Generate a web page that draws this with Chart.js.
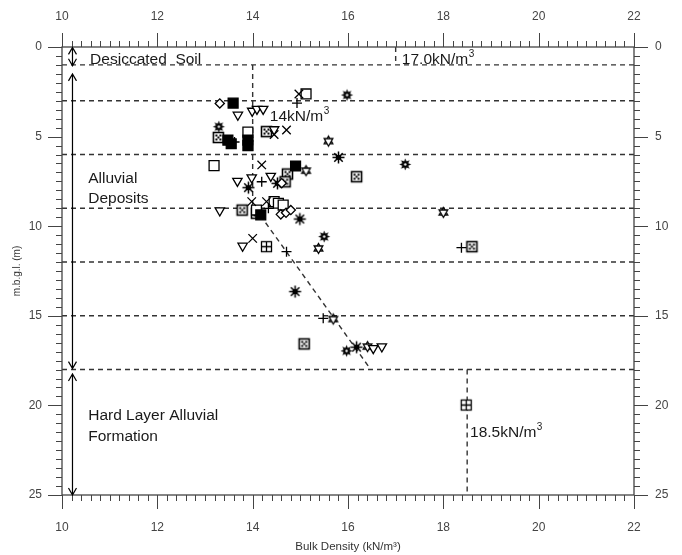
<!DOCTYPE html>
<html>
<head>
<meta charset="utf-8">
<script src="https://cdn.jsdelivr.net/npm/chart.js@4.4.1/dist/chart.umd.min.js"></script>
<style>
  html, body { margin: 0; padding: 0; background: #fff; }
</style>
</head>
<body>
<canvas id="densityChart" width="682" height="555"></canvas>
<script>
  // axis ticks
  const densityTicks = [10, 12, 14, 16, 18, 20, 22];
  const depthTicks = [0, 5, 10, 15, 20, 25];

  // boundaries between soil layers (m)
  const layerDepths = [1, 3, 6, 9, 12, 15, 18];

  // guide lines
  const trendX = [14, 14, 16.46];
  const trendY = [1, 8.8, 17.93];
  const topGuideX = [17, 17];
  const topGuideY = [0, 1];
  const bottomGuideX = [18.5, 18.5];
  const bottomGuideY = [18, 25];

  // readings, one pair of arrays per symbol
  const diamondX = [13.31, 14.59, 14.70, 14.80, 14.61];
  const diamondY = [3.15, 9.34, 9.25, 9.10, 7.60];
  const filledX = [13.59, 13.48, 13.55, 13.90, 13.90, 14.17, 14.90];
  const filledY = [3.13, 5.20, 5.40, 5.20, 5.50, 9.37, 6.64];
  const triangleX = [13.69, 13.99, 14.09, 14.22, 14.45, 13.68, 13.98, 14.38, 13.31, 13.79, 16.53, 16.71];
  const triangleY = [3.79, 3.57, 3.46, 3.46, 4.60, 7.48, 7.29, 7.20, 9.13, 11.10, 16.81, 16.72];
  const crossX = [14.97, 14.45, 14.71, 14.19, 13.98, 14.29, 14.00];
  const crossY = [2.62, 4.88, 4.63, 6.58, 8.63, 8.63, 10.68];
  const plusX = [14.93, 13.62, 14.19, 14.33, 14.71, 18.38, 15.48];
  const plusY = [3.13, 5.30, 7.52, 9.00, 11.42, 11.20, 15.14];
  const squareX = [15.12, 13.90, 13.19, 14.45, 14.54, 14.64, 14.08];
  const squareY = [2.62, 4.75, 6.62, 8.63, 8.72, 8.82, 9.10];
  const diceX = [13.28, 14.29, 14.73, 14.68, 16.18, 13.78, 14.08, 18.60, 15.08];
  const diceY = [5.05, 4.72, 7.09, 7.52, 7.24, 9.10, 9.28, 11.14, 16.57];
  const gridX = [14.29, 18.48];
  const gridY = [11.14, 19.98];
  const burstX = [15.98, 13.29, 17.20, 15.50, 15.97];
  const burstY = [2.68, 4.45, 6.55, 10.58, 16.96];
  const asteriskX = [15.80, 13.91, 14.52, 14.99, 14.89, 16.18];
  const asteriskY = [6.16, 7.85, 7.61, 9.60, 13.65, 16.75];
  const hexX = [15.59, 15.12, 18.00, 15.38, 15.69, 16.41];
  const hexY = [5.25, 6.90, 9.23, 11.24, 15.18, 16.72];

  Chart.defaults.font.family = 'Arial, "Liberation Sans", sans-serif';
  const noteFont = '15.5px Arial, "Liberation Sans", sans-serif';

  function makeMarker(draw) {
    const c = document.createElement('canvas');
    c.width = 15; c.height = 15;
    const g = c.getContext('2d');
    g.translate(7.5, 7.5);
    g.strokeStyle = '#000';
    g.fillStyle = '#000';
    g.lineWidth = 1.3;
    draw(g);
    return c;
  }

  const diceMarker = makeMarker(function(g) {
    g.fillStyle = '#fff';
    g.fillRect(-5, -5, 10, 10);
    g.lineWidth = 1.6;
    g.strokeRect(-5, -5, 10, 10);
    g.fillStyle = '#000';
    [[-2, -2], [2, -2], [0, 0], [-2, 2], [2, 2]].forEach(function(p) {
      g.fillRect(p[0] - 1, p[1] - 1, 2, 2);
    });
  });

  const gridMarker = makeMarker(function(g) {
    g.fillStyle = '#fff';
    g.fillRect(-5, -5, 10, 10);
    g.strokeRect(-5, -5, 10, 10);
    g.beginPath();
    g.moveTo(0, -5); g.lineTo(0, 5);
    g.moveTo(-5, 0); g.lineTo(5, 0);
    g.stroke();
  });

  const hexMarker = makeMarker(function(g) {
    g.lineWidth = 1.3;
    g.fillStyle = '#fff';
    for (let t = 0; t < 2; t++) {
      g.beginPath();
      for (let k = 0; k < 3; k++) {
        const a = -Math.PI / 2 + t * Math.PI + k * 2 * Math.PI / 3;
        const px = 5 * Math.cos(a), py = 5 * Math.sin(a);
        if (k === 0) g.moveTo(px, py); else g.lineTo(px, py);
      }
      g.closePath();
      g.fill();
      g.stroke();
    }
  });

  const burstMarker = makeMarker(function(g) {
    g.beginPath();
    for (let k = 0; k < 16; k++) {
      const a = k * Math.PI / 8;
      const r = k % 2 === 0 ? 6 : 3.2;
      if (k === 0) g.moveTo(r * Math.cos(a), r * Math.sin(a));
      else g.lineTo(r * Math.cos(a), r * Math.sin(a));
    }
    g.closePath();
    g.fill();
    g.fillStyle = '#fff';
    g.beginPath();
    g.arc(0, 0, 1.2, 0, Math.PI * 2);
    g.fill();
  });

  const asteriskMarker = makeMarker(function(g) {
    g.lineWidth = 1.5;
    g.beginPath();
    for (let k = 0; k < 4; k++) {
      const a = k * Math.PI / 4;
      g.moveTo(-6 * Math.cos(a), -6 * Math.sin(a));
      g.lineTo(6 * Math.cos(a), 6 * Math.sin(a));
    }
    g.stroke();
    g.beginPath();
    g.arc(0, 0, 2.8, 0, Math.PI * 2);
    g.fill();
  });

  function markerSet(xs, ys, style, extra) {
    return Object.assign({
      data: xs.map(function(v, i) { return { x: v, y: ys[i] }; }),
      pointStyle: style,
      pointRadius: 5,
      borderColor: '#000',
      backgroundColor: '#fff',
      borderWidth: 1.3,
      order: 1
    }, extra || {});
  }

  function guideLine(xs, ys) {
    return {
      data: xs.map(function(v, i) { return { x: v, y: ys[i] }; }),
      showLine: true,
      borderColor: '#333',
      borderWidth: 1.4,
      borderDash: [5, 4],
      pointRadius: 0,
      fill: false,
      order: 5
    };
  }

  const datasets = [
    markerSet(diamondX, diamondY, 'rectRot', { pointRadius: 4.6 }),
    markerSet(filledX, filledY, 'rect', { pointRadius: 7, backgroundColor: '#000' }),
    markerSet(triangleX, triangleY, 'triangle', { pointRadius: 5.4, rotation: 180 }),
    markerSet(crossX, crossY, 'crossRot', { pointRadius: 6 }),
    markerSet(plusX, plusY, 'cross', { pointRadius: 5 }),
    markerSet(squareX, squareY, 'rect', { pointRadius: 7 }),
    markerSet(diceX, diceY, diceMarker),
    markerSet(gridX, gridY, gridMarker),
    markerSet(burstX, burstY, burstMarker),
    markerSet(asteriskX, asteriskY, asteriskMarker),
    markerSet(hexX, hexY, hexMarker)
  ];
  layerDepths.forEach(function(d) { datasets.push(guideLine([10, 22], [d, d])); });
  datasets.push(guideLine(trendX, trendY));
  datasets.push(guideLine(topGuideX, topGuideY));
  datasets.push(guideLine(bottomGuideX, bottomGuideY));

  function supText(ctx, base, sup, px, py) {
    ctx.font = noteFont;
    ctx.fillText(base, px, py);
    const w = ctx.measureText(base).width;
    ctx.font = '10px Arial, "Liberation Sans", sans-serif';
    ctx.fillText(sup, px + w + 0.5, py - 7);
  }

  function arrow(ctx, px, ya, yb) {
    ctx.beginPath();
    ctx.moveTo(px, ya); ctx.lineTo(px, yb);
    ctx.moveTo(px - 4, ya + 7); ctx.lineTo(px, ya); ctx.lineTo(px + 4, ya + 7);
    ctx.moveTo(px - 4, yb - 7); ctx.lineTo(px, yb); ctx.lineTo(px + 4, yb - 7);
    ctx.stroke();
  }

  // frame, tick marks, arrows and notes
  const overlay = {
    id: 'overlay',
    afterDraw(chart) {
      const ctx = chart.ctx;
      const a = chart.chartArea;
      const x = chart.scales.x;
      const y = chart.scales.y;
      ctx.save();

      ctx.strokeStyle = '#444';
      ctx.lineWidth = 1.3;
      ctx.strokeRect(a.left, a.top, a.right - a.left, a.bottom - a.top);

      ctx.beginPath();
      for (let i = 0; i <= 60; i++) {
        const px = Math.round(x.getPixelForValue(10 + i * 0.2)) + 0.5;
        const len = i % 10 === 0 ? 14 : 6;
        ctx.moveTo(px, a.bottom); ctx.lineTo(px, a.bottom + len);
        ctx.moveTo(px, a.top); ctx.lineTo(px, a.top - len);
      }
      for (let i = 0; i <= 50; i++) {
        const py = Math.round(y.getPixelForValue(i * 0.5)) + 0.5;
        const len = i % 10 === 0 ? 14 : 6;
        ctx.moveTo(a.left, py); ctx.lineTo(a.left - len, py);
        ctx.moveTo(a.right, py); ctx.lineTo(a.right + len, py);
      }
      ctx.lineWidth = 1;
      ctx.stroke();

      ctx.strokeStyle = '#000';
      ctx.lineWidth = 1.2;
      const ax = x.getPixelForValue(10.22);
      arrow(ctx, ax, y.getPixelForValue(0.02), y.getPixelForValue(1.05));
      arrow(ctx, ax, y.getPixelForValue(1.5), y.getPixelForValue(17.95));
      arrow(ctx, ax, y.getPixelForValue(18.25), y.getPixelForValue(25));

      ctx.fillStyle = '#1a1a1a';
      ctx.textBaseline = 'alphabetic';
      ctx.font = noteFont;
      ctx.fillText('Desiccated  Soil', x.getPixelForValue(10.59), y.getPixelForValue(0.95));
      ctx.fillText('Alluvial', x.getPixelForValue(10.55), y.getPixelForValue(7.6));
      ctx.fillText('Deposits', x.getPixelForValue(10.55), y.getPixelForValue(8.72));
      ctx.fillText('Hard Layer Alluvial', x.getPixelForValue(10.55), y.getPixelForValue(20.8));
      ctx.fillText('Formation', x.getPixelForValue(10.55), y.getPixelForValue(21.98));
      supText(ctx, '17.0kN/m', '3', x.getPixelForValue(17.13), y.getPixelForValue(0.95));
      supText(ctx, '14kN/m', '3', x.getPixelForValue(14.36), y.getPixelForValue(4.13));
      supText(ctx, '18.5kN/m', '3', x.getPixelForValue(18.56), y.getPixelForValue(21.76));

      ctx.restore();
    }
  };

  const tickFont = { size: 12 };
  const config = {
    type: 'scatter',
    data: { datasets: datasets },
    options: {
      responsive: false,
      animation: false,
      events: [],
      layout: { padding: 0 },
      plugins: {
        legend: { display: false },
        tooltip: { enabled: false }
      },
      scales: {
        x: {
          type: 'linear', position: 'bottom', min: 10, max: 22,
          afterBuildTicks: function(s) { s.ticks = densityTicks.map(function(v) { return { value: v }; }); },
          ticks: { padding: 17, color: '#444', font: tickFont },
          grid: { display: false }, border: { display: false },
          title: { display: true, text: 'Bulk Density (kN/m³)', color: '#333', font: { size: 11.5 }, padding: { top: 0, bottom: 1 } },
          afterFit: function(s) { s.height = 60; }
        },
        xTop: {
          type: 'linear', position: 'top', min: 10, max: 22,
          afterBuildTicks: function(s) { s.ticks = densityTicks.map(function(v) { return { value: v }; }); },
          ticks: { padding: 15, color: '#444', font: tickFont },
          grid: { display: false }, border: { display: false },
          afterFit: function(s) { s.height = 47; }
        },
        y: {
          type: 'linear', position: 'left', min: 0, max: 25, reverse: true,
          afterBuildTicks: function(s) { s.ticks = depthTicks.map(function(v) { return { value: v }; }); },
          ticks: { padding: 12, color: '#444', font: tickFont },
          grid: { display: false }, border: { display: false },
          title: { display: true, text: 'm.b.g.l. (m)', color: '#333', font: { size: 10 }, padding: { top: 11, bottom: 0 } },
          afterFit: function(s) { s.width = 62; }
        },
        yRight: {
          type: 'linear', position: 'right', min: 0, max: 25, reverse: true,
          afterBuildTicks: function(s) { s.ticks = depthTicks.map(function(v) { return { value: v }; }); },
          ticks: { padding: 13, color: '#444', font: tickFont },
          grid: { display: false }, border: { display: false },
          afterFit: function(s) { s.width = 48; }
        }
      }
    },
    plugins: [overlay]
  };

  window.onload = function() {
    const ctx = document.getElementById('densityChart').getContext('2d');
    new Chart(ctx, config);
  };
</script>
</body>
</html>
